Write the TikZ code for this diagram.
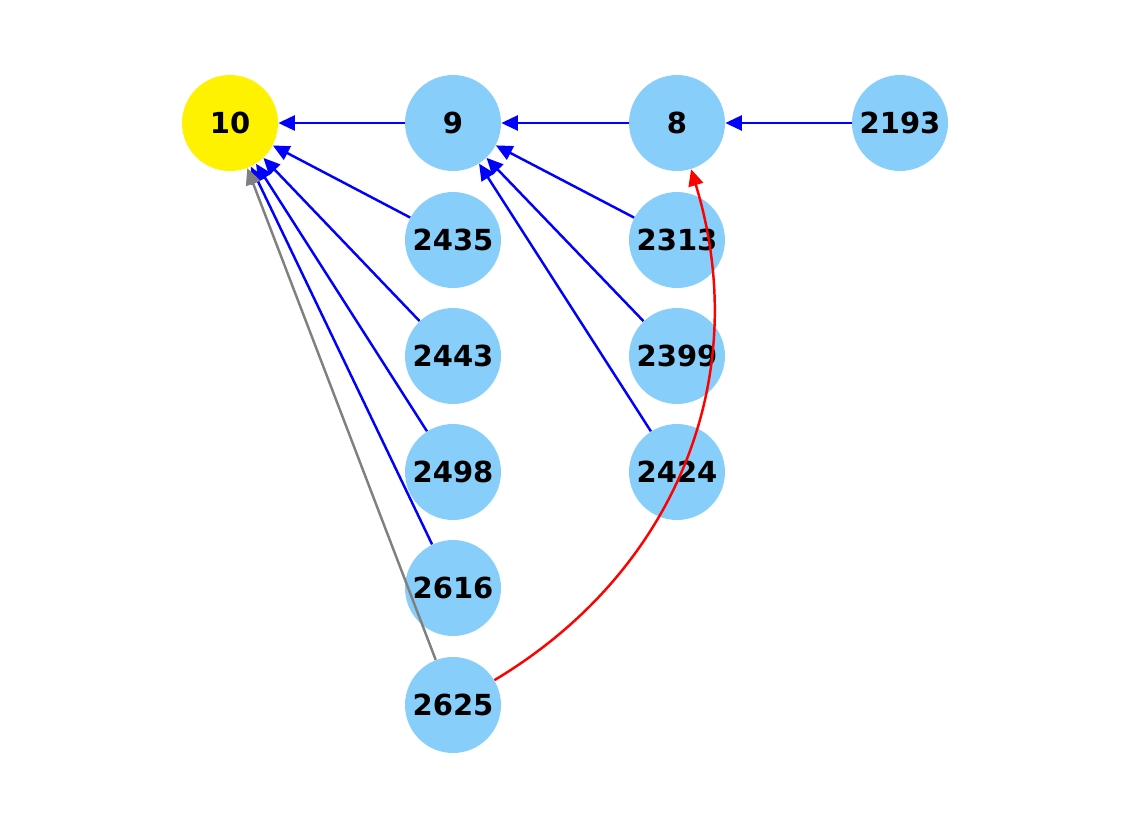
\documentclass[tikz,border=0pt]{standalone}
\usepackage{fontspec}
\setmainfont{DejaVu Sans}
\usetikzlibrary{arrows.meta}
\begin{document}
\begin{tikzpicture}[x=0.02cm,y=-0.02cm,
  nd/.style={circle,fill=lightblue,minimum size=1.92cm,inner sep=0pt,font=\fontsize{16.5}{18}\selectfont\bfseries},
  ed/.style={line width=1.4pt,-{Triangle[length=0.33cm,width=0.3cm]}}]
\definecolor{lightblue}{HTML}{87CEFA}
\useasboundingbox (0,0) rectangle (1130,829);
\node[nd,fill=yellow] (n10) at (230,123) {10};
\node[nd] (n9) at (453,123) {9};
\node[nd] (n8) at (677,123) {8};
\node[nd] (n2193) at (900,123) {2193};
\node[nd] (n2435) at (453,240) {2435};
\node[nd] (n2443) at (453,356) {2443};
\node[nd] (n2498) at (453,472) {2498};
\node[nd] (n2616) at (453,588) {2616};
\node[nd] (n2625) at (453,705) {2625};
\node[nd] (n2313) at (677,240) {2313};
\node[nd] (n2399) at (677,356) {2399};
\node[nd] (n2424) at (677,472) {2424};
\begin{scope}[blue]
\draw[ed] (n9) -- (n10);
\draw[ed] (n8) -- (n9);
\draw[ed] (n2193) -- (n8);
\foreach \s in {2435,2443,2498,2616} \draw[ed] (n\s) -- (n10);
\foreach \s in {2313,2399,2424} \draw[ed] (n\s) -- (n9);
\end{scope}
\draw[ed,gray] (n2625) -- (n10);
\draw[ed,red] (n2625) to[bend right=38] (n8);
\end{tikzpicture}
\end{document}
